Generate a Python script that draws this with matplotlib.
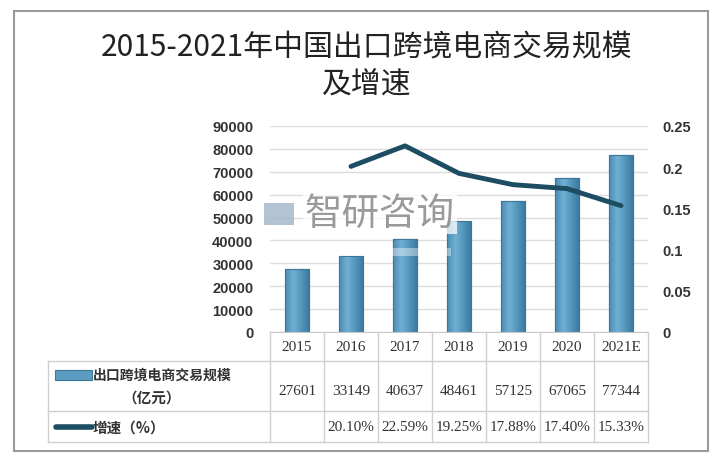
import matplotlib
matplotlib.use("Agg")
import matplotlib.pyplot as plt
import numpy as np
from matplotlib.patches import Rectangle
from matplotlib.lines import Line2D

plt.rcParams['font.family'] = ['Noto Sans CJK SC', 'DejaVu Sans']

years = ["2015", "2016", "2017", "2018", "2019", "2020", "2021E"]
scale = [27601, 33149, 40637, 48461, 57125, 67065, 77344]
growth = [None, 0.2010, 0.2259, 0.1925, 0.1788, 0.1740, 0.1533]
growth_labels = ["", "20.10%", "22.59%", "19.25%", "17.88%", "17.40%", "15.33%"]
left_ticks = [0, 10000, 20000, 30000, 40000, 50000, 60000, 70000, 80000, 90000]
right_ticks = [0, 0.05, 0.1, 0.15, 0.2, 0.25]
right_tick_labels = ["0", "0.05", "0.1", "0.15", "0.2", "0.25"]
title = "2015-2021年中国出口跨境电商交易规模\n及增速"
series1_name = "出口跨境电商交易规模"
series1_unit = "（亿元）"
series2_name = "增速（%）"
watermark = "智研咨询"

W, H = 721, 460
fig = plt.figure(figsize=(W / 100, H / 100), dpi=100)
fig.patch.set_facecolor("white")

def fx(x):
    return x / W

def fy(y):
    return 1 - y / H

# outer border
fig.add_artist(Rectangle((fx(14), fy(452)), fx(694), 440 / H, transform=fig.transFigure,
                         fill=False, edgecolor="#9a9a9a", lw=1.5))

# title
fig.text(fx(367), fy(66), title, ha="center", va="center", fontsize=21.5,
         color="#222222", linespacing=1.2, fontweight="medium")

# main axes
ax_l, ax_r, ax_t, ax_b = 270, 648, 127, 333
ax = fig.add_axes([fx(ax_l), fy(ax_b), fx(ax_r - ax_l), (ax_b - ax_t) / H])
ax.set_facecolor("none")
x = np.arange(len(years))
ax.set_yticks(left_ticks)
ax.set_yticklabels([str(v) for v in left_ticks], fontsize=10.5, color="#333333",
                   family=["Liberation Sans"], fontweight="bold")
ax.tick_params(axis="y", length=0, pad=12)
ax.set_xticks([])
for s in ["top", "right", "left"]:
    ax.spines[s].set_visible(False)
ax.spines["bottom"].set_color("#c8c8c8")
ax.grid(axis="y", color="#dcdcdc", lw=1)
ax.set_axisbelow(True)

bars = ax.bar(x, scale, width=0.44, color="#5b9cc0", edgecolor="#3d7696", lw=0.8, zorder=2)
grad = np.linspace(0, 1, 64)
cols = np.array([[0x4a, 0x8c, 0xb2], [0x72, 0xb0, 0xd2], [0x5a, 0x9c, 0xc2], [0x3c, 0x7c, 0xa2]]) / 255
pos = np.array([0, 0.35, 0.6, 1])
img = np.stack([np.interp(grad, pos, cols[:, c]) for c in range(3)], axis=-1)[None, :, :]
for b in bars:
    bx, by, bw, bh = b.get_x(), b.get_y(), b.get_width(), b.get_height()
    im = ax.imshow(img, extent=[bx, bx + bw, by, by + bh], aspect="auto", zorder=2.1,
                   interpolation="bilinear")
    im.set_clip_path(b)
    ax.add_patch(Rectangle((bx, by), bw, bh, fill=False, edgecolor="#3d7696", lw=0.8, zorder=2.2))
ax.set_xlim(-0.5, len(years) - 0.5)
ax.set_ylim(0, 90000)

ax2 = ax.twinx()
ax2.set_ylim(0, 0.25)
ax2.set_yticks(right_ticks)
ax2.set_yticklabels(right_tick_labels, fontsize=10.5, color="#333333",
                    family=["Liberation Sans"], fontweight="bold")
ax2.tick_params(axis="y", length=0, pad=10)
for s in ["top", "right", "left", "bottom"]:
    ax2.spines[s].set_visible(False)
gx = [i for i, g in enumerate(growth) if g is not None]
gy = [g for g in growth if g is not None]
ax2.plot(gx, gy, color="#1c4d62", lw=3.5, solid_capstyle="round", solid_joinstyle="round", zorder=5)

# watermark
fig.text(fx(305), fy(214), watermark, ha="left", va="center", fontsize=27,
         color="#8f8f8f", alpha=0.9, zorder=10,
         bbox=dict(boxstyle="square,pad=0.05", facecolor="white", edgecolor="none", alpha=0.75))
fig.add_artist(Rectangle((fx(264), fy(226)), fx(30), 22 / H, transform=fig.transFigure,
                         facecolor="#9fb6c9", edgecolor="none", alpha=0.8, zorder=10))
fig.add_artist(Rectangle((fx(266), fy(257)), fx(185), 8 / H, transform=fig.transFigure,
                         facecolor="white", edgecolor="none", alpha=0.4, zorder=10))

# data table
tab_left = 48
col_w = (ax_r - ax_l) / len(years)
y_hdr_bot, y_r1_bot, y_bot = 362, 412, 443
line_c = "#cfcfcf"

def hline(y, x0, x1):
    fig.add_artist(Line2D([fx(x0), fx(x1)], [fy(y), fy(y)], transform=fig.transFigure,
                          color=line_c, lw=1))

def vline(xp, y0, y1):
    fig.add_artist(Line2D([fx(xp), fx(xp)], [fy(y0), fy(y1)], transform=fig.transFigure,
                          color=line_c, lw=1))

hline(y_hdr_bot, tab_left, ax_r)
hline(y_r1_bot, tab_left, ax_r)
hline(y_bot, tab_left, ax_r)
vline(tab_left, y_hdr_bot, y_bot)
for i in range(len(years) + 1):
    vline(ax_l + i * col_w, ax_b, y_bot)

num_font = ["Liberation Serif"]
for i, yr in enumerate(years):
    cx = ax_l + (i + 0.5) * col_w
    fig.text(fx(cx), fy(348), yr, ha="center", va="center", fontsize=11, color="#333333",
             family=num_font)
    fig.text(fx(cx), fy(392), str(scale[i]), ha="center", va="center", fontsize=11,
             color="#333333", family=num_font)
    fig.text(fx(cx), fy(428), growth_labels[i], ha="center", va="center", fontsize=11,
             color="#333333", family=num_font)

# legend keys in table
fig.add_artist(Rectangle((fx(55), fy(381)), fx(37), 10 / H, transform=fig.transFigure,
                         facecolor="#5b9cc0", edgecolor="#3d7696", lw=0.8))
fig.text(fx(93), fy(376), series1_name, ha="left", va="center", fontsize=10,
         color="#333333", fontweight="bold")
fig.text(fx(152), fy(398), series1_unit, ha="center", va="center", fontsize=10.5,
         color="#333333", fontweight="bold")
fig.add_artist(Line2D([fx(56), fx(92)], [fy(428), fy(428)], transform=fig.transFigure,
                      color="#1c4d62", lw=4, solid_capstyle="round"))
fig.text(fx(93), fy(428), series2_name, ha="left", va="center", fontsize=10.5,
         color="#333333", fontweight="bold")

fig.savefig("out.png", dpi=100, facecolor="white")
